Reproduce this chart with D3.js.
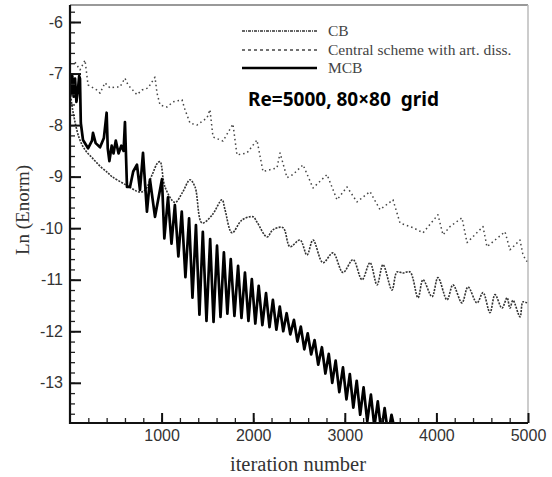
<!DOCTYPE html>
<html>
<head>
<meta charset="utf-8">
<script src="https://cdn.jsdelivr.net/npm/d3@7"></script>
<style>
  body { margin: 0; background: #fff; }
  svg { display: block; }
</style>
</head>
<body>
<div id="chart"></div>
<script>
// data: [iteration, Ln(Enorm)]
const mcbData = [
  [0, -7.0], [12, -7.4], [25, -7.05], [40, -7.45], [55, -7.1], [70, -7.55], [85, -7.35],
  [100, -7.05], [109, -7.1], [118, -7.96], [142, -8.29], [197, -8.45], [240, -8.3],
  [251, -8.15], [280, -8.35], [328, -8.43], [370, -8.25], [400, -7.76], [412, -8.45],
  [430, -8.7], [455, -8.4], [475, -8.55], [500, -8.3], [530, -8.55], [560, -8.4],
  [585, -8.5], [600, -7.94], [622, -9.2], [655, -9.2], [690, -8.9], [731, -8.77],
  [764, -9.26], [797, -8.54], [840, -9.68], [873, -9.06], [928, -9.78], [1004, -9.05],
  [1030, -10.2], [1070, -9.4], [1108, -10.3], [1145, -9.55], [1183, -10.55], [1220, -9.68],
  [1260, -10.95], [1300, -9.81], [1337, -11.35], [1375, -9.94], [1413, -11.68], [1450, -10.07],
  [1490, -11.8], [1530, -10.21], [1567, -11.82], [1605, -10.34], [1643, -11.72], [1680, -10.47],
  [1718, -11.66], [1755, -10.6], [1795, -11.7], [1835, -10.73], [1872, -11.74], [1910, -10.86],
  [1948, -11.8], [1985, -10.99], [2023, -11.85], [2060, -11.12], [2100, -11.88], [2140, -11.26],
  [2178, -11.92], [2215, -11.39], [2253, -11.97], [2290, -11.52], [2328, -12.0], [2365, -11.65],
  [2405, -12.06], [2445, -11.78], [2483, -12.2], [2520, -11.91], [2558, -12.35], [2595, -12.04],
  [2633, -12.45], [2670, -12.17], [2710, -12.65], [2750, -12.31], [2788, -12.82], [2825, -12.44],
  [2863, -13.0], [2900, -12.57], [2940, -13.18], [2980, -12.7], [3018, -13.32], [3055, -12.83],
  [3093, -13.48], [3130, -12.96], [3168, -13.62], [3205, -13.09], [3245, -13.75], [3285, -13.23],
  [3323, -13.85], [3360, -13.36], [3398, -13.95], [3435, -13.49], [3473, -14.0], [3510, -13.62],
  [3550, -13.95]
];

const cbData = [
  [0, -7.3], [20, -7.6], [50, -7.9], [100, -8.25], [164, -8.48], [250, -8.65], [330, -8.8],
  [415, -8.93], [459, -9.0], [600, -9.15], [764, -9.3], [819, -9.26], [900, -8.95],
  [950, -8.75], [983, -8.71], [1037, -9.2], [1146, -9.5], [1230, -9.3], [1310, -9.06],
  [1365, -9.2], [1441, -9.9], [1550, -9.75], [1659, -9.45], [1692, -9.64], [1769, -10.09],
  [1878, -9.84], [1998, -9.78], [2041, -9.88], [2151, -10.17], [2216, -10.03], [2325, -9.99],
  [2402, -10.36], [2511, -10.23], [2587, -10.52], [2653, -10.23], [2762, -10.67], [2871, -10.48],
  [2980, -10.86], [3090, -10.61], [3188, -11.0], [3275, -10.67], [3352, -11.1], [3417, -10.71],
  [3515, -11.2], [3570, -10.85], [3635, -10.87], [3712, -10.85], [3799, -11.35], [3854, -11.0],
  [3952, -11.33], [4017, -10.96], [4116, -11.39], [4181, -11.1], [4279, -11.45], [4345, -11.14],
  [4443, -11.45], [4509, -11.25], [4585, -11.64], [4640, -11.29], [4716, -11.55], [4771, -11.35],
  [4803, -11.55], [4836, -11.4], [4913, -11.72], [4945, -11.43], [4989, -11.45]
];

const centralData = [
  [55, -6.78], [109, -6.93], [164, -6.74], [197, -7.22], [295, -7.32], [328, -7.38],
  [382, -7.18], [437, -7.28], [491, -7.26], [546, -7.26], [600, -7.09], [633, -7.22],
  [731, -7.41], [786, -7.32], [852, -7.28], [928, -7.07], [950, -7.38], [983, -7.61],
  [1059, -7.65], [1124, -7.55], [1223, -7.51], [1255, -7.7], [1310, -7.96], [1386, -8.0],
  [1496, -7.86], [1528, -7.7], [1561, -8.23], [1670, -8.31], [1779, -7.98], [1823, -8.58],
  [1932, -8.54], [2041, -8.29], [2107, -8.9], [2260, -8.83], [2293, -8.54], [2369, -9.02],
  [2434, -8.96], [2544, -8.77], [2653, -9.22], [2806, -8.96], [2915, -9.45], [3024, -9.2],
  [3133, -9.49], [3275, -9.29], [3384, -9.64], [3526, -9.45], [3603, -9.9], [3745, -9.99],
  [3854, -10.09], [4017, -9.74], [4072, -10.13], [4148, -9.97], [4279, -9.8], [4334, -10.28],
  [4509, -9.97], [4552, -10.36], [4749, -10.07], [4803, -10.42], [4913, -10.23], [4945, -10.52],
  [4989, -10.65]
];

const xTicks = [1000, 2000, 3000, 4000, 5000];
const yTicks = [-13, -12, -11, -10, -9, -8, -7, -6];
const legendLabels = ['CB', 'Central scheme with art. diss.', 'MCB'];
const noteText = 'Re=5000, 80\u00d780  grid';

// layout
const width = 552, height = 477;
const plot = { left: 70, right: 528, top: 5, bottom: 423 };

const x = d3.scaleLinear().domain([0, 5000]).range([plot.left, plot.right]);
const y = d3.scaleLinear().domain([-13.78, -5.67]).range([plot.bottom, plot.top]);

const svg = d3.select('#chart').append('svg')
  .attr('width', width)
  .attr('height', height);

// clip so the MCB curve stops at the bottom axis
svg.append('clipPath').attr('id', 'clip')
  .append('rect')
  .attr('x', plot.left).attr('y', plot.top)
  .attr('width', plot.right - plot.left).attr('height', plot.bottom - plot.top);

// top and right frame
svg.append('line')
  .attr('x1', plot.left).attr('x2', plot.right)
  .attr('y1', plot.top).attr('y2', plot.top)
  .attr('stroke', '#777').attr('stroke-width', 1.5);
svg.append('line')
  .attr('x1', plot.right).attr('x2', plot.right)
  .attr('y1', plot.top).attr('y2', plot.bottom)
  .attr('stroke', '#bbb').attr('stroke-width', 1.5);

// curves
const curves = svg.append('g').attr('clip-path', 'url(#clip)');

const styles = [
  { data: cbData, stroke: '#333', width: 1.6, dash: '2,1.2', curve: d3.curveCatmullRom },
  { data: centralData, stroke: '#444', width: 1.5, dash: '1.5,3', curve: d3.curveLinear },
  { data: mcbData, stroke: '#000', width: 2.7, dash: null, curve: d3.curveLinear }
];

styles.forEach(s => {
  curves.append('path')
    .datum(s.data)
    .attr('fill', 'none')
    .attr('stroke', s.stroke)
    .attr('stroke-width', s.width)
    .attr('stroke-dasharray', s.dash)
    .attr('stroke-linejoin', 'round')
    .attr('d', d3.line().curve(s.curve).x(d => x(d[0])).y(d => y(d[1])));
});

// minor ticks
svg.append('g')
  .attr('transform', `translate(0, ${plot.bottom})`)
  .call(d3.axisBottom(x).tickValues(d3.range(200, 5000, 200)).tickSize(-5).tickFormat(''))
  .call(g => g.select('.domain').remove())
  .call(g => g.selectAll('.tick line').attr('stroke', '#222').attr('stroke-width', 1.3));
svg.append('g')
  .attr('transform', `translate(${plot.left}, 0)`)
  .call(d3.axisLeft(y).tickValues(d3.range(-13.6, -5.7, 0.2)).tickSize(-5).tickFormat(''))
  .call(g => g.select('.domain').remove())
  .call(g => g.selectAll('.tick line').attr('stroke', '#222').attr('stroke-width', 1.3));

// major ticks and labels
svg.append('g')
  .attr('transform', `translate(0, ${plot.bottom})`)
  .call(d3.axisBottom(x).tickValues(xTicks).tickSize(-10).tickPadding(7).tickFormat(d => String(d)))
  .call(g => g.select('.domain').remove())
  .call(g => g.selectAll('.tick line').attr('stroke', '#111').attr('stroke-width', 2))
  .call(g => g.selectAll('.tick text')
    .attr('fill', '#333')
    .attr('font-family', 'Liberation Sans, Arial, sans-serif')
    .attr('font-size', 16));

svg.append('g')
  .attr('transform', `translate(${plot.left}, 0)`)
  .call(d3.axisLeft(y).tickValues(yTicks).tickSize(-11).tickPadding(7).tickFormat(d => String(d)))
  .call(g => g.select('.domain').remove())
  .call(g => g.selectAll('.tick line').attr('stroke', '#111').attr('stroke-width', 2))
  .call(g => g.selectAll('.tick text')
    .attr('fill', '#333')
    .attr('font-family', 'Liberation Sans, Arial, sans-serif')
    .attr('font-size', 16));

// left and bottom axis lines
svg.append('line')
  .attr('x1', plot.left).attr('x2', plot.left)
  .attr('y1', plot.top).attr('y2', plot.bottom + 1)
  .attr('stroke', '#111').attr('stroke-width', 2.2);
svg.append('line')
  .attr('x1', plot.left).attr('x2', plot.right)
  .attr('y1', plot.bottom).attr('y2', plot.bottom)
  .attr('stroke', '#111').attr('stroke-width', 2.2);

// axis titles
svg.append('text')
  .attr('x', 298)
  .attr('y', 471)
  .attr('text-anchor', 'middle')
  .attr('font-family', 'Liberation Serif, Times New Roman, serif')
  .attr('font-size', 20.5)
  .attr('fill', '#333')
  .text('iteration number');

svg.append('text')
  .attr('transform', 'translate(29, 210) rotate(-90)')
  .attr('text-anchor', 'middle')
  .attr('font-family', 'Liberation Serif, Times New Roman, serif')
  .attr('font-size', 19)
  .attr('fill', '#333')
  .text('Ln (Enorm)');

// legend
const legend = svg.append('g');
styles.forEach((s, i) => {
  const ly = [31, 50, 68][i];
  legend.append('line')
    .attr('x1', 242).attr('x2', 317)
    .attr('y1', ly).attr('y2', ly)
    .attr('stroke', s.stroke)
    .attr('stroke-width', i === 2 ? 2.4 : 1.3)
    .attr('stroke-dasharray', i === 0 ? '3,1,1,1' : (i === 1 ? '3,3' : null));
  legend.append('text')
    .attr('x', 328).attr('y', ly + 5)
    .attr('font-family', 'Liberation Serif, Times New Roman, serif')
    .attr('font-size', 15.5)
    .attr('fill', '#444')
    .text(legendLabels[i]);
});

svg.append('text')
  .attr('x', 248).attr('y', 106)
  .attr('font-family', 'Noto Sans, Open Sans, sans-serif')
  .attr('font-weight', 'bold')
  .attr('font-size', 19)
  .attr('fill', '#000')
  .style('white-space', 'pre')
  .text(noteText);
</script>
</body>
</html>
